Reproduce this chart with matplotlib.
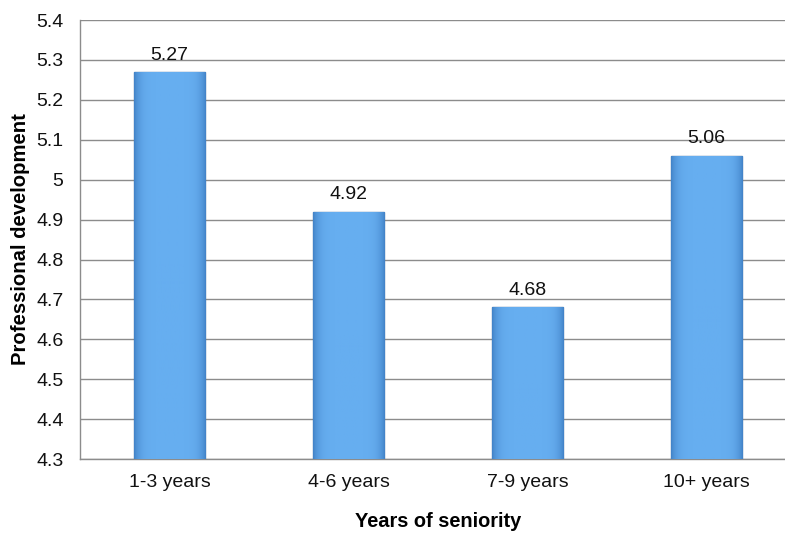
import numpy as np
import matplotlib
matplotlib.use("Agg")
import matplotlib.pyplot as plt

plt.rcParams['font.family'] = ['Liberation Sans', 'DejaVu Sans']

categories = ['1-3 years', '4-6 years', '7-9 years', '10+ years']
values = [5.27, 4.92, 4.68, 5.06]
yticks = [4.3, 4.4, 4.5, 4.6, 4.7, 4.8, 4.9, 5.0, 5.1, 5.2, 5.3, 5.4]
ytick_labels = ['4.3', '4.4', '4.5', '4.6', '4.7', '4.8', '4.9', '5', '5.1', '5.2', '5.3', '5.4']

fig = plt.figure(figsize=(7.85, 5.34), dpi=100)
ax = fig.add_axes([0.102, 0.1404, 0.912, 0.822])

x = np.arange(len(categories))
bars = ax.bar(x, values, width=0.4, bottom=0, color='#5fa4e6',
              edgecolor='#4d7aa8', linewidth=1.0, zorder=3)

# soft horizontal gradient inside each bar
grad = np.linspace(0, 1, 64)
shade = 1 - 0.35 * (2 * grad - 1) ** 6
cmap = matplotlib.colors.LinearSegmentedColormap.from_list('b', ['#3f7fc4', '#66aef0'])
for b in bars:
    x0, w, h = b.get_x(), b.get_width(), b.get_height()
    im = ax.imshow(shade[np.newaxis, :], cmap=cmap, aspect='auto',
                   extent=(x0, x0 + w, 4.3, h), vmin=0.6, vmax=1.0, zorder=3.5)
    im.set_clip_path(b)

for xi, v in zip(x, values):
    ax.annotate(f'{v:.2f}', (xi, v), xytext=(0, 6), textcoords='offset points',
                ha='center', va='bottom', fontsize=14, color='#111111', zorder=5)

ax.set_xlim(-0.5, len(categories) - 0.5)
ax.set_ylim(4.3, 5.4)
ax.set_yticks(yticks)
ax.set_yticklabels(ytick_labels)
ax.set_xticks(x)
ax.set_xticklabels(categories)
ax.yaxis.grid(True, color='#8c8c8c', linewidth=1.0, zorder=0)
ax.tick_params(axis='both', length=0, labelsize=14, colors='#111111')
ax.tick_params(axis='y', pad=12)
ax.tick_params(axis='x', pad=11)

for s in ['top', 'right']:
    ax.spines[s].set_visible(False)
for s in ['left', 'bottom']:
    ax.spines[s].set_color('#8c8c8c')
    ax.spines[s].set_linewidth(1.0)

ax.set_xlabel('Years of seniority', fontsize=14.4, fontweight='bold', labelpad=15)
ax.set_ylabel('Professional development', fontsize=14.6, fontweight='bold', labelpad=4)

fig.savefig('out.png', dpi=100)
